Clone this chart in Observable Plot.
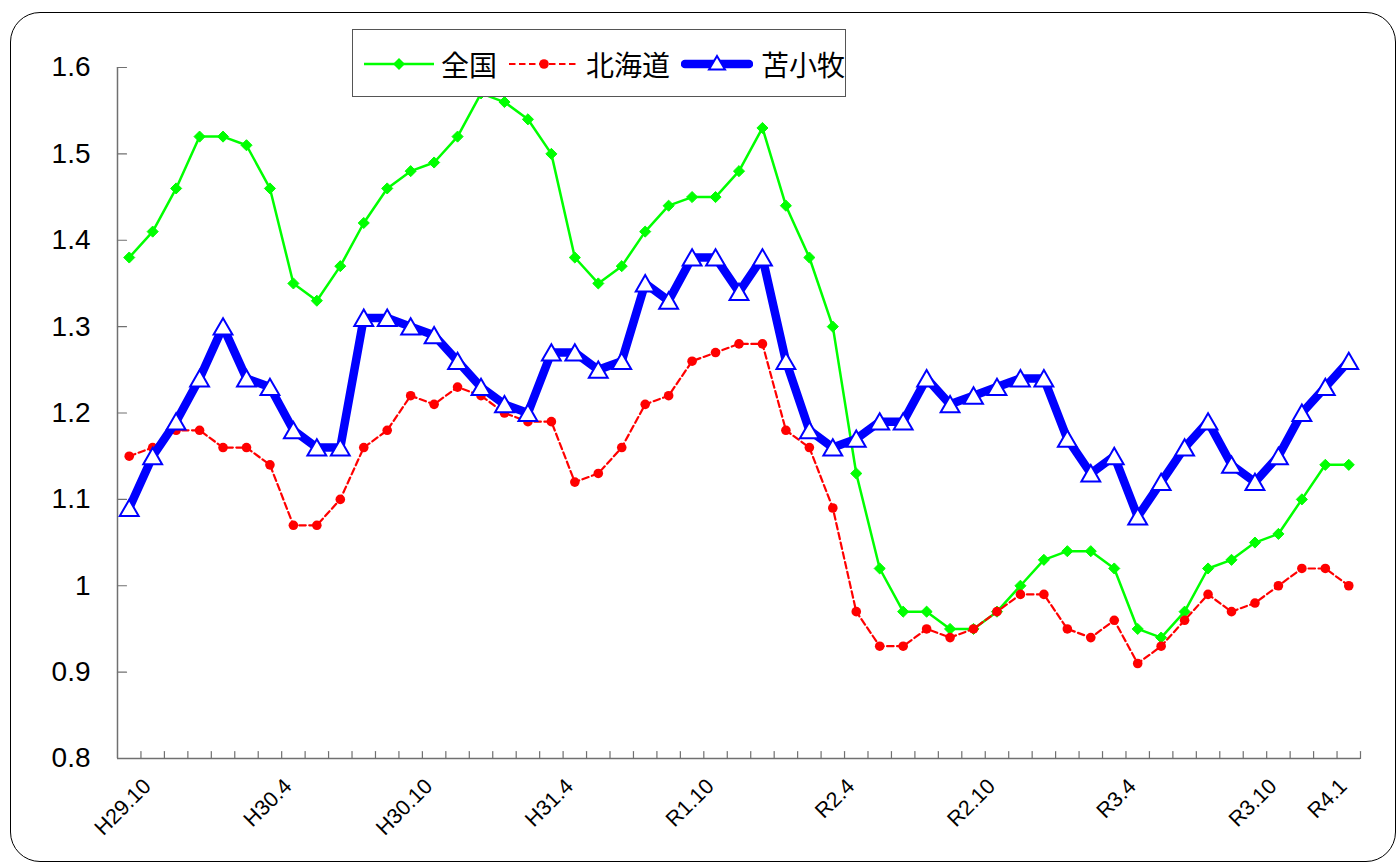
<!DOCTYPE html>
<html><head><meta charset="utf-8">
<script src="https://cdn.jsdelivr.net/npm/d3@7"></script>
<script src="https://cdn.jsdelivr.net/npm/@observablehq/plot@0.6"></script>
<style>
body{margin:0;background:#fff;}
#wrap{position:relative;width:1397px;height:863px;overflow:hidden;background:#fff;}
#chart{position:absolute;left:0;top:0;}
#border{position:absolute;left:10px;top:12px;width:1384px;height:848px;border:1.5px solid #000;border-radius:30px;pointer-events:none;}
#legend{position:absolute;left:352px;top:29px;width:492px;height:66px;border:1px solid #555;background:#fff;font-family:"Noto Sans CJK JP",sans-serif;font-size:28px;color:#000;}
#legend .sw{position:absolute;top:24px;}
#legend .tx{position:absolute;top:14px;line-height:40px;}
</style></head>
<body><div id="wrap"><div id="chart"></div><div id="legend"></div><div id="border"></div></div>
<script>
const months = ["H29.10","H29.11","H29.12","H30.1","H30.2","H30.3","H30.4","H30.5","H30.6","H30.7","H30.8","H30.9","H30.10","H30.11","H30.12","H31.1","H31.2","H31.3","H31.4","R1.5","R1.6","R1.7","R1.8","R1.9","R1.10","R1.11","R1.12","R2.1","R2.2","R2.3","R2.4","R2.5","R2.6","R2.7","R2.8","R2.9","R2.10","R2.11","R2.12","R3.1","R3.2","R3.3","R3.4","R3.5","R3.6","R3.7","R3.8","R3.9","R3.10","R3.11","R3.12","R4.1","R4.2"];
const zenkoku = [1.38,1.41,1.46,1.52,1.52,1.51,1.46,1.35,1.33,1.37,1.42,1.46,1.48,1.49,1.52,1.57,1.56,1.54,1.50,1.38,1.35,1.37,1.41,1.44,1.45,1.45,1.48,1.53,1.44,1.38,1.30,1.13,1.02,0.97,0.97,0.95,0.95,0.97,1.00,1.03,1.04,1.04,1.02,0.95,0.94,0.97,1.02,1.03,1.05,1.06,1.10,1.14,1.14];
const hokkaido = [1.15,1.16,1.18,1.18,1.16,1.16,1.14,1.07,1.07,1.10,1.16,1.18,1.22,1.21,1.23,1.22,1.20,1.19,1.19,1.12,1.13,1.16,1.21,1.22,1.26,1.27,1.28,1.28,1.18,1.16,1.09,0.97,0.93,0.93,0.95,0.94,0.95,0.97,0.99,0.99,0.95,0.94,0.96,0.91,0.93,0.96,0.99,0.97,0.98,1.00,1.02,1.02,1.00];
const tomakomai = [1.09,1.15,1.19,1.24,1.30,1.24,1.23,1.18,1.16,1.16,1.31,1.31,1.30,1.29,1.26,1.23,1.21,1.20,1.27,1.27,1.25,1.26,1.35,1.33,1.38,1.38,1.34,1.38,1.26,1.18,1.16,1.17,1.19,1.19,1.24,1.21,1.22,1.23,1.24,1.24,1.17,1.13,1.15,1.08,1.12,1.16,1.19,1.14,1.12,1.15,1.20,1.23,1.26];
const seriesNames = ["全国","北海道","苫小牧"];
const yTicks = [0.8,0.9,1,1.1,1.2,1.3,1.4,1.5,1.6];
const tickLabels = ["H29.10","H30.4","H30.10","H31.4","R1.10","R2.4","R2.10","R3.4","R3.10","R4.1"];

const W = 1397, H = 863, mL = 117, mR = 37, mT = 67, mB = 105;
const step = (W - mL - mR) / months.length;
const rows = months.map((m, i) => ({m, a: zenkoku[i], b: hokkaido[i], c: tomakomai[i]}));
const tickShape = {draw(ctx, l) { ctx.moveTo(0, 0); ctx.lineTo(0, -l); }};
const axisColor = "#707070";

const chart = Plot.plot({
  width: W, height: H,
  marginLeft: mL, marginRight: mR, marginTop: mT, marginBottom: mB,
  style: {background: "transparent", fontFamily: "'Liberation Sans', Arial, sans-serif", overflow: "visible"},
  x: {type: "point", domain: months, padding: 0.5, round: false, axis: null},
  y: {domain: [0.8, 1.6], axis: null},
  marks: [
    // axes lines
    Plot.ruleY([0.8], {stroke: axisColor, strokeWidth: 1.5}),
    Plot.ruleX([months[0]], {dx: -step / 2, stroke: axisColor, strokeWidth: 1.5}),
    // y ticks (inward) and labels
    Plot.vector(yTicks, {y: d => d, frameAnchor: "left", length: 9, rotate: 90, anchor: "start", shape: tickShape, stroke: axisColor, strokeWidth: 1.2}),
    Plot.text(yTicks, {y: d => d, text: d => String(d), frameAnchor: "left", dx: -27, textAnchor: "end", fontSize: 28, fill: "#000"}),
    // x ticks between categories
    Plot.vector(months, {x: d => d, dx: step / 2, frameAnchor: "bottom", length: 7, rotate: 0, anchor: "start", shape: tickShape, stroke: axisColor, strokeWidth: 1.2}),
    Plot.text(tickLabels, {x: d => d, text: d => d, frameAnchor: "bottom", dx: 23, dy: 29, rotate: -45, textAnchor: "end", fontSize: 21.5, fill: "#000"}),
    // 全国
    Plot.line(rows, {x: "m", y: "a", stroke: "#00FF00", strokeWidth: 2.5}),
    Plot.dot(rows, {x: "m", y: "a", symbol: "diamond2", r: 5, fill: "#00FF00", stroke: "#00FF00", strokeWidth: 1}),
    // 北海道
    Plot.line(rows, {x: "m", y: "b", stroke: "#FF0000", strokeWidth: 2.2, strokeDasharray: "6.5,3.5"}),
    Plot.dot(rows, {x: "m", y: "b", r: 4.8, fill: "#FF0000"}),
    // 苫小牧
    Plot.line(rows, {x: "m", y: "c", stroke: "#0000FF", strokeWidth: 8.5}),
    Plot.dot(rows, {x: "m", y: "c", symbol: "triangle", r: 7, dy: 2.5, fill: "#FFFFFF", stroke: "#0000FF", strokeWidth: 2})
  ]
});
document.getElementById("chart").appendChild(chart);

// legend
const lg = document.getElementById("legend");
const swatches = [
  `<svg class="sw" style="left:11px" width="70" height="20"><line x1="0" y1="10" x2="70" y2="10" stroke="#00FF00" stroke-width="2.5"/><path d="M35,4 L41,10 L35,16 L29,10 Z" fill="#00FF00"/></svg>`,
  `<svg class="sw" style="left:156px" width="70" height="20"><line x1="0" y1="10" x2="70" y2="10" stroke="#FF0000" stroke-width="2.2" stroke-dasharray="6.5,3.5"/><circle cx="35" cy="10" r="4.8" fill="#FF0000"/></svg>`,
  `<svg class="sw" style="left:328px" width="72" height="20"><line x1="4" y1="10" x2="68" y2="10" stroke="#0000FF" stroke-width="8.5" stroke-linecap="round"/><path d="M36,2 L44,15.5 L28,15.5 Z" fill="#FFFFFF" stroke="#0000FF" stroke-width="2"/></svg>`
];
const textLefts = [88, 233, 408];
lg.innerHTML = swatches.join("") + seriesNames.map((s, i) => `<span class="tx" style="left:${textLefts[i]}px">${s}</span>`).join("");
</script>
</body></html>
